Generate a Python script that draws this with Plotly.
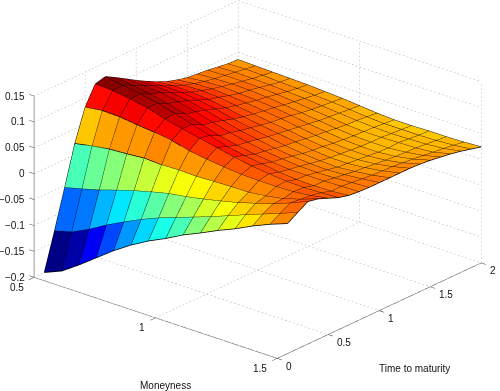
import plotly.graph_objects as go

moneyness = [0.5 + i / 14 for i in range(15)]
maturity = [round(0.1 * (j + 1), 1) for j in range(20)]
m_ticks = [0.5, 1, 1.5]
t_ticks = [0, 0.5, 1, 1.5, 2]
z_ticks = [-0.2, -0.15, -0.1, -0.05, 0, 0.05, 0.1, 0.15]
z_labels = ["\u22120.2", "\u22120.15", "\u22120.1", "\u22120.05", "0", "0.05", "0.1", "0.15"]
m_labels = ["0.5", "1", "1.5"]
t_labels = ["0", "0.5", "1", "1.5", "2"]

# rows: maturity; columns: moneyness
Z = [
 [-.200,-.186,-.163,-.138,-.113,-.091,-.072,-.056,-.038,-.023,-.007,.0075,.024,.0385,.051],
 [-.129,-.120,-.1035,-.084,-.067,-.051,-.037,-.025,-.013,-.001,.012,.025,.0375,.050,.063],
 [-.0545,-.046,-.037,-.026,-.016,-.007,.001,.006,.0126,.020,.028,.038,.048,.061,.075],
 [.0215,.028,.033,.035,.038,.036,.037,.036,.0375,.0385,.039,.043,.049,.059,.071],
 [.082,.087,.086,.082,.0785,.074,.065,.060,.056,.053,.052,.052,.053,.057,.063],
 [.118,.116,.111,.105,.095,.087,.080,.073,.066,.060,.056,.053,.052,.053,.055],
 [.123,.117,.112,.105,.096,.086,.076,.066,.060,.055,.050,.047,.046,.047,.050],
 [.112,.108,.102,.095,.086,.076,.066,.059,.053,.049,.046,.046,.046,.047,.048],
 [.100,.099,.096,.089,.081,.072,.063,.056,.050,.046,.043,.042,.043,.045,.047],
 [.088,.089,.087,.082,.075,.066,.058,.052,.046,.042,.039,.038,.040,.043,.047],
 [.077,.079,.078,.074,.068,.060,.054,.048,.042,.038,.035,.034,.037,.041,.047],
 [.067,.070,.069,.066,.061,.055,.050,.045,.040,.035,.032,.032,.035,.040,.047],
 [.058,.062,.063,.061,.056,.051,.046,.042,.037,.033,.030,.030,.033,.039,.047],
 [.052,.056,.057,.055,.052,.048,.044,.039,.034,.030,.028,.028,.031,.037,.046],
 [.047,.051,.052,.050,.048,.045,.041,.036,.032,.028,.026,.026,.029,.035,.044],
 [.045,.047,.048,.047,.045,.041,.037,.033,.029,.026,.025,.025,.028,.033,.041],
 [.043,.044,.044,.043,.041,.038,.034,.031,.027,.025,.025,.026,.027,.030,.038],
 [.040,.041,.040,.039,.037,.035,.032,.029,.026,.024,.023,.024,.025,.028,.034],
 [.037,.038,.037,.035,.034,.032,.030,.027,.024,.022,.022,.022,.023,.025,.029],
 [.036,.035,.034,.033,.032,.030,.028,.025,.022,.020,.020,.021,.021,.022,.024],
]

nm, nt = len(moneyness), len(maturity)
zlo = min(min(r) for r in Z)
zhi = max(max(r) for r in Z)


def jet(t):
    def ch(v):
        return max(0.0, min(1.0, 1.5 - abs(4 * t - v)))
    return "rgb(%d,%d,%d)" % (round(255 * ch(3)), round(255 * ch(2)), round(255 * ch(1)))


def cell_colour(v):
    idx = min(63, int((v - zlo) / (zhi - zlo) * 64))
    return jet((idx + 0.5) / 64)


vx, vy, vz = [], [], []
for j in range(nt):
    for i in range(nm):
        vx.append(moneyness[i]); vy.append(maturity[j]); vz.append(Z[j][i])

fi, fj, fk, fc = [], [], [], []
for j in range(nt - 1):
    for i in range(nm - 1):
        a = j * nm + i
        b, c, d = a + 1, a + nm, a + nm + 1
        col = cell_colour(Z[j][i])
        fi += [a, a]; fj += [b, d]; fk += [d, c]; fc += [col, col]

surface = go.Mesh3d(x=vx, y=vy, z=vz, i=fi, j=fj, k=fk, facecolor=fc, flatshading=True,
                    lighting=dict(ambient=1, diffuse=0, specular=0, roughness=1, fresnel=0),
                    hoverinfo="skip", showscale=False)

# mesh lines
lx, ly, lz = [], [], []
for j in range(nt):
    lx += moneyness + [None]; ly += [maturity[j]] * nm + [None]; lz += Z[j] + [None]
for i in range(nm):
    lx += [moneyness[i]] * nt + [None]; ly += maturity + [None]; lz += [Z[j][i] for j in range(nt)] + [None]
mesh_lines = go.Scatter3d(x=lx, y=ly, z=lz, mode="lines", line=dict(color="#000000", width=1.5), hoverinfo="skip")

mlo, mhi = m_ticks[0], m_ticks[-1]
tlo, thi = t_ticks[0], t_ticks[-1]
zb, zt = z_ticks[0], z_ticks[-1]

gx, gy, gz = [], [], []


def seg(xs, ys, zs, X, Y, W):
    X += xs + [None]; Y += ys + [None]; W += zs + [None]


def dotted(p, q, n):
    # a grid line broken into n short dots
    for s in range(n):
        f0 = s / n
        f1 = (s + 0.4) / n
        seg([p[0] + (q[0] - p[0]) * f0, p[0] + (q[0] - p[0]) * f1],
            [p[1] + (q[1] - p[1]) * f0, p[1] + (q[1] - p[1]) * f1],
            [p[2] + (q[2] - p[2]) * f0, p[2] + (q[2] - p[2]) * f1], gx, gy, gz)


for m in m_ticks:
    dotted((m, tlo, zb), (m, thi, zb), 60)
    dotted((m, thi, zb), (m, thi, zt), 45)
for t in t_ticks:
    dotted((mlo, t, zb), (mhi, t, zb), 62)
    dotted((mlo, t, zb), (mlo, t, zt), 45)
for v in z_ticks:
    dotted((mlo, tlo, v), (mlo, thi, v), 60)
    dotted((mlo, thi, v), (mhi, thi, v), 62)
grid = go.Scatter3d(x=gx, y=gy, z=gz, mode="lines", line=dict(color="#a8a8a8", width=1), hoverinfo="skip")

ax, ay, az = [], [], []
seg([mlo, mhi], [tlo, tlo], [zb, zb], ax, ay, az)
seg([mhi, mhi], [tlo, thi], [zb, zb], ax, ay, az)
for m in m_ticks:
    seg([m, m], [tlo, tlo - 0.05], [zb, zb], ax, ay, az)
for t in t_ticks:
    seg([mhi, mhi + 0.02], [t, t], [zb, zb], ax, ay, az)
for v in z_ticks:
    seg([mlo, mlo - 0.02], [tlo, tlo], [v, v], ax, ay, az)
axes = go.Scatter3d(x=ax, y=ay, z=az, mode="lines", line=dict(color="#444444", width=1), hoverinfo="skip")
z_axis = go.Scatter3d(x=[mlo, mlo], y=[tlo, tlo], z=[zb, zt], mode="lines",
                      line=dict(color="#9a9a9a", width=2), hoverinfo="skip")

font = dict(family="Liberation Sans, Arial, sans-serif", size=10, color="#111111")
ann = []
for v, s in zip(z_ticks, z_labels):
    ann.append(dict(x=mlo, y=tlo, z=v, text=s, showarrow=False, xanchor="right", yanchor="middle",
                    xshift=-7.5, yshift=0, font=font))
for m, s in zip(m_ticks, m_labels):
    ann.append(dict(x=m, y=tlo, z=zb, text=s, showarrow=False, xanchor="right", yanchor="middle",
                    xshift=-8.5, yshift=-10, font=font))
for t, s in zip(t_ticks, t_labels):
    ann.append(dict(x=mhi, y=t, z=zb, text=s, showarrow=False, xanchor="left", yanchor="middle",
                    xshift=7, yshift=-8, font=font))
ann.append(dict(x=1, y=tlo, z=zb, text="Moneyness", showarrow=False, xanchor="center", yanchor="middle",
                xshift=10, yshift=-68, font=font))
ann.append(dict(x=mhi, y=1, z=zb, text="Time to maturity", showarrow=False, xanchor="center", yanchor="middle",
                xshift=35, yshift=-58, font=font))

hidden = dict(showbackground=False, showgrid=False, zeroline=False, showline=False, showticklabels=False,
              ticks="", title=dict(text=""), showspikes=False)

cx, cy, cz = -0.0091, -0.05, -0.0754
fig = go.Figure([grid, surface, mesh_lines, axes, z_axis])
fig.update_layout(
    width=500, height=391, margin=dict(l=0, r=0, t=0, b=0), showlegend=False,
    paper_bgcolor="white",
    scene=dict(
        domain=dict(x=[0, 1], y=[0, 1]),
        xaxis=dict(range=[0.47, 1.53], **hidden),
        yaxis=dict(range=[-0.06, 2.06], **hidden),
        zaxis=dict(range=[-0.21, 0.16], **hidden),
        aspectmode="manual",
        aspectratio=dict(x=1.725, y=1.715, z=1.067),
        camera=dict(eye=dict(x=1.4815 + cx, y=-1.755 + cy, z=0.9875 + cz), center=dict(x=cx, y=cy, z=cz),
                    up=dict(x=0, y=0, z=1), projection=dict(type="orthographic")),
        annotations=ann,
    ),
)
fig.write_html("out.html", post_script="document.body.style.margin='0';", config={"displayModeBar": False})
